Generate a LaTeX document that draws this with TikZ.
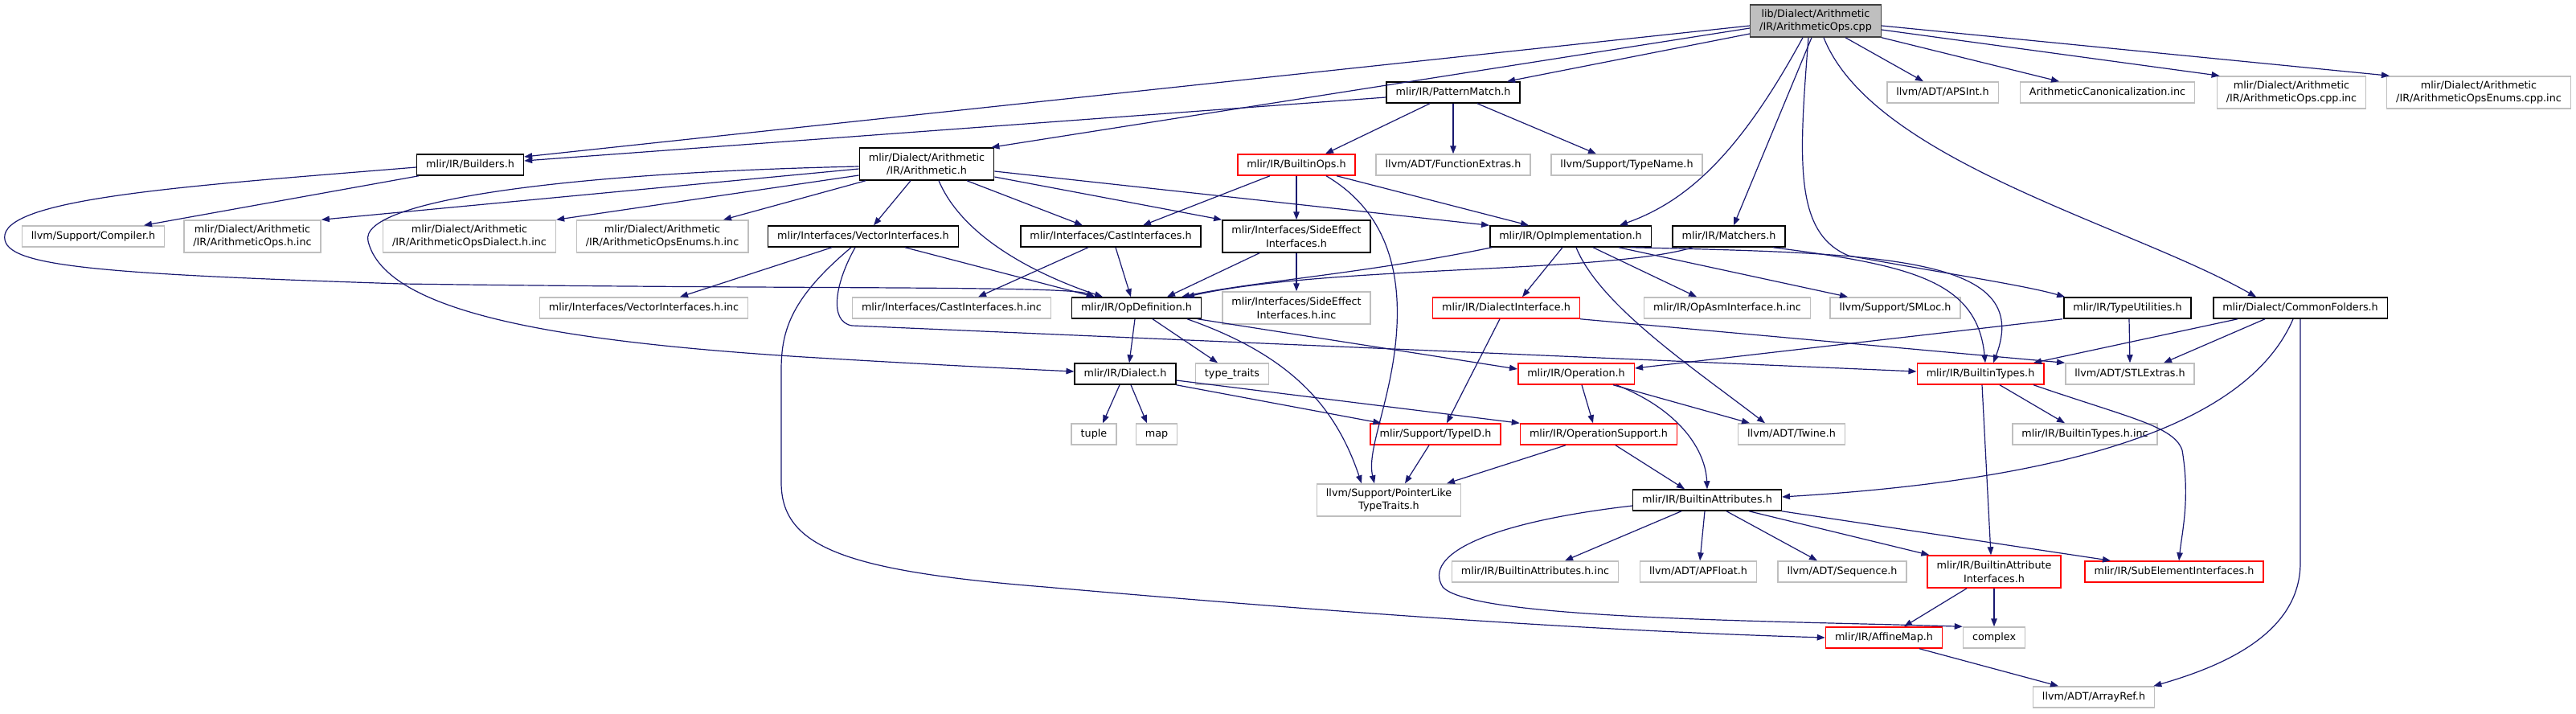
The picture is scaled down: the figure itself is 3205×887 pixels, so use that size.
\documentclass[tikz,border=0pt]{standalone}
\usepackage{fontspec}
\setmainfont{DejaVu Sans}
\usetikzlibrary{arrows.meta}
\definecolor{edgeblue}{HTML}{191970}
\definecolor{greyb}{HTML}{BFBFBF}
\definecolor{rootline}{HTML}{404040}
\tikzset{
  base/.style={rectangle, inner xsep=11.5pt, inner ysep=0pt, minimum height=26pt,
    font=\fontsize{12.75}{16.5}\selectfont, line width=1.5pt},
  one/.style={text height=9.6pt, text depth=2.6pt},
  two/.style={minimum height=40pt, align=center},
  doc/.style={base, draw=black},
  ext/.style={base, draw=greyb},
  trunc/.style={base, draw=red},
  rootnode/.style={base, draw=rootline, fill=greyb},
  edge/.style={draw=edgeblue, line width=1.2pt, -{Triangle[length=10pt,width=7.5pt]}}
}
\begin{document}
\begin{tikzpicture}[x=1pt,y=-1pt]
\useasboundingbox (0,0) rectangle (3205,887);
% rank 0
\node[rootnode,two] (root) at (2259,26) {lib/Dialect/Arithmetic\\/IR/ArithmeticOps.cpp};
% rank 1
\node[doc,one] (pm) at (1808,115) {mlir/IR/PatternMatch.h};
\node[ext,one] (apsint) at (2417,115) {llvm/ADT/APSInt.h};
\node[ext,one] (canon) at (2622,115) {ArithmeticCanonicalization.inc};
\node[ext,two] (opscppinc) at (2851,115) {mlir/Dialect/Arithmetic\\/IR/ArithmeticOps.cpp.inc};
\node[ext,two] (enumscppinc) at (3084,115) {mlir/Dialect/Arithmetic\\/IR/ArithmeticOpsEnums.cpp.inc};
% rank 2
\node[doc,one] (builders) at (585,205) {mlir/IR/Builders.h};
\node[doc,two] (arith) at (1153,204) {mlir/Dialect/Arithmetic\\/IR/Arithmetic.h};
\node[trunc,one] (builtinops) at (1613,205) {mlir/IR/BuiltinOps.h};
\node[ext,one] (funcext) at (1808,205) {llvm/ADT/FunctionExtras.h};
\node[ext,one] (typename) at (2024,205) {llvm/Support/TypeName.h};
% rank 3
\node[ext,one] (compiler) at (116,294) {llvm/Support/Compiler.h};
\node[ext,two] (opshinc) at (314,294) {mlir/Dialect/Arithmetic\\/IR/ArithmeticOps.h.inc};
\node[ext,two] (dialhinc) at (584,294) {mlir/Dialect/Arithmetic\\/IR/ArithmeticOpsDialect.h.inc};
\node[ext,two] (enumshinc) at (824,294) {mlir/Dialect/Arithmetic\\/IR/ArithmeticOpsEnums.h.inc};
\node[doc,one] (vecif) at (1074,294) {mlir/Interfaces/VectorInterfaces.h};
\node[doc,one] (castif) at (1382,294) {mlir/Interfaces/CastInterfaces.h};
\node[doc,two] (sideeff) at (1613,294) {mlir/Interfaces/SideEffect\\Interfaces.h};
\node[doc,one] (opimpl) at (1954,294) {mlir/IR/OpImplementation.h};
\node[doc,one] (matchers) at (2151,294) {mlir/IR/Matchers.h};
% rank 4
\node[ext,one] (vechinc) at (801,383) {mlir/Interfaces/VectorInterfaces.h.inc};
\node[ext,one] (casthinc) at (1184,383) {mlir/Interfaces/CastInterfaces.h.inc};
\node[doc,one] (opdef) at (1414,383) {mlir/IR/OpDefinition.h};
\node[ext,two] (sidehinc) at (1613,383) {mlir/Interfaces/SideEffect\\Interfaces.h.inc};
\node[trunc,one] (dialif) at (1874,383) {mlir/IR/DialectInterface.h};
\node[ext,one] (opasm) at (2149,383) {mlir/IR/OpAsmInterface.h.inc};
\node[ext,one] (smloc) at (2358,383) {llvm/Support/SMLoc.h};
\node[doc,one] (typeutil) at (2647,383) {mlir/IR/TypeUtilities.h};
\node[doc,one] (commonf) at (2862,383) {mlir/Dialect/CommonFolders.h};
% rank 5
\node[doc,one] (dialect) at (1400,465) {mlir/IR/Dialect.h};
\node[ext,one] (typetraits) at (1533,465) {type\_traits};
\node[trunc,one] (operation) at (1961,465) {mlir/IR/Operation.h};
\node[trunc,one] (btypes) at (2464,465) {mlir/IR/BuiltinTypes.h};
\node[ext,one] (stlextras) at (2650,465) {llvm/ADT/STLExtras.h};
% rank 6
\node[ext,one] (tuple) at (1361,540) {tuple};
\node[ext,one] (map) at (1439,540) {map};
\node[trunc,one] (typeid) at (1786,540) {mlir/Support/TypeID.h};
\node[trunc,one] (opsupport) at (1989,540) {mlir/IR/OperationSupport.h};
\node[ext,one] (twine) at (2229,540) {llvm/ADT/Twine.h};
\node[ext,one] (btypeshinc) at (2594,540) {mlir/IR/BuiltinTypes.h.inc};
% rank 7
\node[ext,two] (ptrlike) at (1728,622) {llvm/Support/PointerLike\\TypeTraits.h};
\node[doc,one] (battrs) at (2124,622) {mlir/IR/BuiltinAttributes.h};
% rank 8
\node[ext,one] (battrshinc) at (1910,711) {mlir/IR/BuiltinAttributes.h.inc};
\node[ext,one] (apfloat) at (2113,711) {llvm/ADT/APFloat.h};
\node[ext,one] (sequence) at (2292,711) {llvm/ADT/Sequence.h};
\node[trunc,two] (bai) at (2481,711) {mlir/IR/BuiltinAttribute\\Interfaces.h};
\node[trunc,one] (subelem) at (2705,711) {mlir/IR/SubElementInterfaces.h};
% rank 9
\node[trunc,one] (affinemap) at (2344,793) {mlir/IR/AffineMap.h};
\node[ext,one] (complex) at (2481,793) {complex};
% rank 10
\node[ext,one] (arrayref) at (2605,867) {llvm/ADT/ArrayRef.h};

% ---- edges from root
\draw[edge] ([shift={(0,6)}]root.west) -- ([shift={(0,-10)}]builders.east);
\draw[edge] ([shift={(0,9)}]root.west) -- ([shift={(-4,0)}]arith.north east);
\draw[edge] ([shift={(0,16)}]root.west) -- ([shift={(67,0)}]pm.north);
\draw[edge] ([shift={(-16,0)}]root.south) .. controls (2165,190) and (2100,250) .. ([shift={(61,0)}]opimpl.north);
\draw[edge] ([shift={(-5,0)}]root.south) -- ([shift={(6,0)}]matchers.north);
\draw[edge] ([shift={(-9,0)}]root.south) .. controls (2238,200) and (2232,290) .. (2300,318) .. controls (2420,340) and (2520,355) .. ([shift={(2,0)}]typeutil.north west);
\draw[edge] ([shift={(10,0)}]root.south) .. controls (2330,200) and (2650,280) .. ([shift={(-55,0)}]commonf.north);
\draw[edge] ([shift={(37,0)}]root.south) -- ([shift={(-24,0)}]apsint.north);
\draw[edge] (root.south east) -- ([shift={(-60,0)}]canon.north);
\draw[edge] ([shift={(0,11)}]root.east) -- ([shift={(4,0)}]opscppinc.north west);
\draw[edge] ([shift={(0,6)}]root.east) -- ([shift={(4,0)}]enumscppinc.north west);
% ---- PatternMatch
\draw[edge] ([shift={(0,6)}]pm.west) -- ([shift={(0,-5)}]builders.east);
\draw[edge] ([shift={(-29,0)}]pm.south) -- ([shift={(36,0)}]builtinops.north);
\draw[edge] (pm.south) -- (funcext.north);
\draw[edge] ([shift={(30,0)}]pm.south) -- ([shift={(-38,0)}]typename.north);
% ---- Builders
\draw[edge] ([shift={(-64,0)}]builders.south) -- ([shift={(63,0)}]compiler.north);
\draw[edge] ([shift={(0,3)}]builders.west) .. controls (250,230) and (15,245) .. (6,292) .. controls (0,330) and (100,340) .. (500,353) .. controls (1000,360) and (1330,355) .. ([shift={(-52,0)}]opdef.north);
% ---- Arithmetic.h
\draw[edge] ([shift={(0,6)}]arith.west) -- (opshinc.north east);
\draw[edge] ([shift={(0,3)}]arith.west) .. controls (700,215) and (445,250) .. (458,300) .. controls (480,390) and (700,425) .. (1000,444) .. controls (1150,453) and (1250,458) .. ([shift={(0,-3)}]dialect.west);
\draw[edge] ([shift={(0,14)}]arith.west) -- (dialhinc.north east);
\draw[edge] ([shift={(-76,0)}]arith.south) -- ([shift={(76,0)}]enumshinc.north);
\draw[edge] ([shift={(-20,0)}]arith.south) -- ([shift={(13,0)}]vecif.north);
\draw[edge] ([shift={(15,0)}]arith.south) .. controls (1200,300) and (1300,345) .. ([shift={(-42,0)}]opdef.north);
\draw[edge] ([shift={(50,0)}]arith.south) -- ([shift={(-35,0)}]castif.north);
\draw[edge] ([shift={(0,16)}]arith.east) -- (sideeff.north west);
\draw[edge] ([shift={(0,9)}]arith.east) -- (opimpl.north west);
% ---- BuiltinOps
\draw[edge] ([shift={(-33,0)}]builtinops.south) -- ([shift={(40,0)}]castif.north);
\draw[edge] (builtinops.south) -- (sideeff.north);
\draw[edge] ([shift={(50,0)}]builtinops.south) -- ([shift={(-52,0)}]opimpl.north);
\draw[edge] ([shift={(37,0)}]builtinops.south) .. controls (1720,260) and (1745,330) .. (1737,420) .. controls (1730,500) and (1700,560) .. ([shift={(-18,0)}]ptrlike.north);
% ---- VectorInterfaces
\draw[edge] ([shift={(-39,0)}]vecif.south) -- ([shift={(45,0)}]vechinc.north);
\draw[edge] ([shift={(52,0)}]vecif.south) -- ([shift={(-52,0)}]opdef.north);
\draw[edge] ([shift={(-15,0)}]vecif.south) .. controls (985,370) and (972,410) .. (972,460) -- (972,600) .. controls (972,680) and (1050,710) .. (1300,730) .. controls (1700,765) and (2000,785) .. (affinemap.west);
\draw[edge] ([shift={(-10,0)}]vecif.south) .. controls (1040,350) and (1030,400) .. (1060,405) -- ([shift={(0,-3)}]btypes.west);
% ---- CastInterfaces
\draw[edge] ([shift={(-28,0)}]castif.south) -- ([shift={(33,0)}]casthinc.north);
\draw[edge] ([shift={(6,0)}]castif.south) -- ([shift={(-7,0)}]opdef.north);
% ---- SideEffectInterfaces
\draw[edge] (sideeff.south) -- (sidehinc.north);
\draw[edge] ([shift={(-46,0)}]sideeff.south) -- ([shift={(38,0)}]opdef.north);
% ---- OpImplementation
\draw[edge] ([shift={(-98,0)}]opimpl.south) .. controls (1700,340) and (1560,350) .. ([shift={(56,0)}]opdef.north);
\draw[edge] ([shift={(-10,0)}]opimpl.south) -- ([shift={(20,0)}]dialif.north);
\draw[edge] ([shift={(28,0)}]opimpl.south) -- ([shift={(-38,0)}]opasm.north);
\draw[edge] ([shift={(60,0)}]opimpl.south) -- ([shift={(-59,0)}]smloc.north);
\draw[edge] ([shift={(7,0)}]opimpl.south) .. controls (1990,380) and (2110,460) .. ([shift={(-33,0)}]twine.north);
\draw[edge] ([shift={(75,0)}]opimpl.south) .. controls (2350,315) and (2530,320) .. ([shift={(16,0)}]btypes.north);
% ---- Matchers
\draw[edge] ([shift={(-45,0)}]matchers.south) .. controls (2000,340) and (1650,330) .. ([shift={(62,0)}]opdef.north);
\draw[edge] ([shift={(55,0)}]matchers.south) .. controls (2380,330) and (2460,350) .. ([shift={(6,0)}]btypes.north);
% ---- OpDefinition
\draw[edge] ([shift={(-2,0)}]opdef.south) -- ([shift={(5,0)}]dialect.north);
\draw[edge] ([shift={(20,0)}]opdef.south) -- ([shift={(-18,0)}]typetraits.north);
\draw[edge] ([shift={(63,0)}]opdef.south) .. controls (1600,440) and (1660,500) .. ([shift={(-34,0)}]ptrlike.north);
\draw[edge] ([shift={(76,0)}]opdef.south) -- ([shift={(0,-6)}]operation.west);
% ---- DialectInterface
\draw[edge] ([shift={(-8,0)}]dialif.south) -- ([shift={(14,0)}]typeid.north);
\draw[edge] (dialif.south east) -- (stlextras.north west);
% ---- TypeUtilities
\draw[edge] ([shift={(-81,0)}]typeutil.south) -- ([shift={(0,-7)}]operation.east);
\draw[edge] ([shift={(2,0)}]typeutil.south) -- (stlextras.north);
% ---- CommonFolders
\draw[edge] ([shift={(-78,0)}]commonf.south) -- ([shift={(66,0)}]btypes.north);
\draw[edge] ([shift={(-44,0)}]commonf.south) -- ([shift={(42,0)}]stlextras.north);
\draw[edge] ([shift={(-9,0)}]commonf.south) .. controls (2800,520) and (2600,595) .. ([shift={(0,-4)}]battrs.east);
\draw[edge] (commonf.south) -- (2862,700) .. controls (2862,790) and (2760,830) .. ([shift={(-2,0)}]arrayref.north east);
% ---- Dialect
\draw[edge] ([shift={(-7,0)}]dialect.south) -- ([shift={(11,0)}]tuple.north);
\draw[edge] ([shift={(7,0)}]dialect.south) -- ([shift={(-12,0)}]map.north);
\draw[edge] (dialect.south east) -- ([shift={(14,0)}]typeid.north west);
\draw[edge] ([shift={(0,8)}]dialect.east) -- (opsupport.north west);
% ---- Operation
\draw[edge] ([shift={(7,0)}]operation.south) -- ([shift={(-7,0)}]opsupport.north);
\draw[edge] ([shift={(46,0)}]operation.south) -- ([shift={(-52,0)}]twine.north);
\draw[edge] ([shift={(50,0)}]operation.south) .. controls (2090,510) and (2122,560) .. (battrs.north);
% ---- TypeID / OperationSupport
\draw[edge] ([shift={(-8,0)}]typeid.south) -- ([shift={(20,0)}]ptrlike.north);
\draw[edge] ([shift={(-41,0)}]opsupport.south) -- ([shift={(72,0)}]ptrlike.north);
\draw[edge] ([shift={(21,0)}]opsupport.south) -- ([shift={(-28,0)}]battrs.north);
% ---- BuiltinTypes
\draw[edge] ([shift={(2,0)}]btypes.south) -- ([shift={(-4,0)}]bai.north);
\draw[edge] ([shift={(24,0)}]btypes.south) -- ([shift={(-25,0)}]btypeshinc.north);
\draw[edge] ([shift={(66,0)}]btypes.south) .. controls (2650,520) and (2705,530) .. (2715,560) .. controls (2725,620) and (2715,660) .. ([shift={(6,0)}]subelem.north);
% ---- BuiltinAttributes
\draw[edge] ([shift={(-32,0)}]battrs.south) -- ([shift={(37,0)}]battrshinc.north);
\draw[edge] ([shift={(-3,0)}]battrs.south) -- ([shift={(2,0)}]apfloat.north);
\draw[edge] ([shift={(24,0)}]battrs.south) -- ([shift={(-31,0)}]sequence.north);
\draw[edge] ([shift={(52,0)}]battrs.south) -- ([shift={(3,0)}]bai.north west);
\draw[edge] (battrs.south east) -- ([shift={(-79,0)}]subelem.north);
\draw[edge] ([shift={(0,7)}]battrs.west) .. controls (1850,650) and (1770,690) .. (1795,730) .. controls (1830,770) and (2200,772) .. (complex.north west);
% ---- BuiltinAttributeInterfaces / AffineMap
\draw[edge] ([shift={(-34,0)}]bai.south) -- ([shift={(25,0)}]affinemap.north);
\draw[edge] (bai.south) -- (complex.north);
\draw[edge] ([shift={(44,0)}]affinemap.south) -- ([shift={(-44,0)}]arrayref.north);
\end{tikzpicture}
\end{document}
